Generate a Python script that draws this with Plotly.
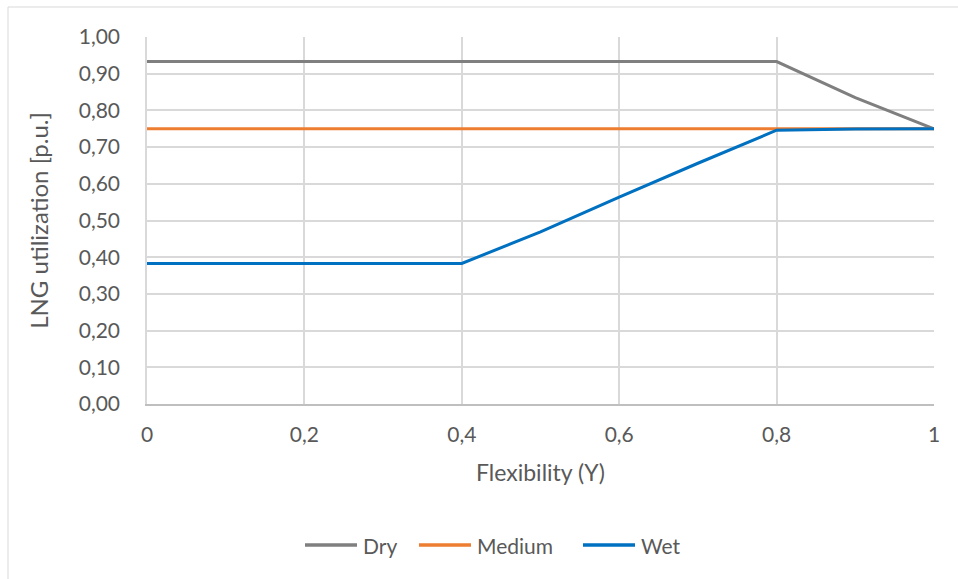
import plotly.graph_objects as go

# Flexibility levels and LNG utilization per scenario
flexibility = [0, 0.1, 0.2, 0.3, 0.4, 0.5, 0.6, 0.7, 0.8, 0.9, 1.0]
dry = [0.933, 0.933, 0.933, 0.933, 0.933, 0.933, 0.933, 0.933, 0.933, 0.835, 0.75]
medium = [0.75, 0.75, 0.75, 0.75, 0.75, 0.75, 0.75, 0.75, 0.75, 0.75, 0.75]
wet = [0.383, 0.383, 0.383, 0.383, 0.383, 0.469, 0.564, 0.656, 0.746, 0.749, 0.75]

series = [("Dry", dry, "#7f7f7f"), ("Medium", medium, "#ed7d31"), ("Wet", wet, "#0070c0")]

FONT = "Lato, Open Sans, sans-serif"
TEXT = "#595959"

W, H = 958, 579
L, R, T, B = 147, 24, 37, 175
PW, PH = W - L - R, H - T - B


def px_to_paper(px, py):
    return (px - L) / PW, (H - B - py) / PH


fig = go.Figure()
for name, values, color in series:
    fig.add_trace(go.Scatter(
        x=flexibility, y=values, name=name, mode="lines",
        line=dict(color=color, width=3), showlegend=False,
    ))

# Legend row below the plot: a short line sample followed by the series name
shapes = [dict(
    type="rect", xref="paper", yref="paper",
    x0=px_to_paper(8, 0)[0], x1=2, y0=-2, y1=px_to_paper(0, 7)[1],
    line=dict(color="#d9d9d9", width=1), fillcolor="rgba(0,0,0,0)",
    layer="below",
)]
annotations = []
legend_starts = [305, 419, 583]
legend_y = 545
for (name, _, color), start in zip(series, legend_starts):
    x0, y = px_to_paper(start, legend_y)
    x1, _ = px_to_paper(start + 52, legend_y)
    tx, _ = px_to_paper(start + 56, legend_y)
    shapes.append(dict(type="line", xref="paper", yref="paper",
                       x0=x0, x1=x1, y0=y, y1=y,
                       line=dict(color=color, width=3.5)))
    annotations.append(dict(text=name, xref="paper", yref="paper",
                            x=tx, y=y, xanchor="left", yanchor="middle",
                            showarrow=False, font=dict(size=21, color=TEXT)))

fig.update_layout(
    width=W, height=H,
    margin=dict(l=L, r=R, t=T, b=B),
    paper_bgcolor="white", plot_bgcolor="white",
    separators=",.",
    font=dict(family=FONT, color=TEXT, size=21),
    showlegend=False,
    shapes=shapes,
    annotations=annotations,
)

fig.update_xaxes(
    range=[0, 1], dtick=0.2, tick0=0,
    showgrid=True, gridcolor="#d9d9d9", gridwidth=1.5,
    showline=True, linecolor="#bfbfbf", linewidth=1.5, mirror=False,
    zeroline=False, ticks="", ticklabelstandoff=11,
    tickfont=dict(size=21, color=TEXT),
    title=dict(text="Flexibility (Y)", font=dict(size=23, color=TEXT), standoff=20),
)
fig.update_yaxes(
    range=[0, 1], dtick=0.1, tick0=0, tickformat=".2f",
    showgrid=True, gridcolor="#d9d9d9", gridwidth=1.5,
    showline=True, linecolor="#d9d9d9", linewidth=1.5,
    zeroline=False, ticks="", ticklabelstandoff=21,
    tickfont=dict(size=21, color=TEXT),
    title=dict(text="LNG utilization [p.u.]", font=dict(size=24, color=TEXT), standoff=23),
)

fig.write_html("out.html")
